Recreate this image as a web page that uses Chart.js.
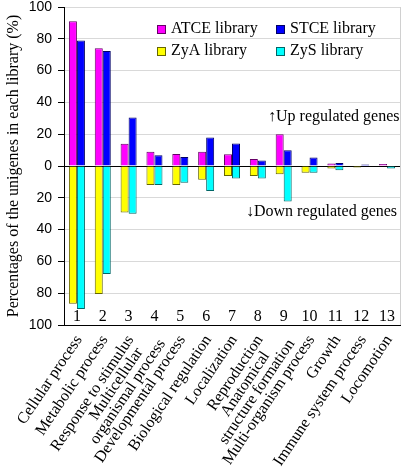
<!DOCTYPE html>
<html>
<head>
<meta charset="utf-8">
<script src="https://cdn.jsdelivr.net/npm/chart.js@4.4.1/dist/chart.umd.min.js"></script>
<style>
  body { margin: 0; background: #fff; }
  canvas { display: block; }
</style>
</head>
<body>
<canvas id="myChart" width="405" height="475"></canvas>
<script>
// kategorier (GO-termer)
const categories = [
  "Cellular process", "Metabolic process", "Response to stimulus",
  ["Multicellular", "organismal process"], "Developmental process",
  "Biological regulation", "Localization", "Reproduction",
  ["Anatomical", "structure formation"], "Multi-organism process",
  "Growth", "Immune system process", "Locomotion"
];
const catNumbers = ["1", "2", "3", "4", "5", "6", "7", "8", "9", "10", "11", "12", "13"];

// upp-reglerade
const atce = [91, 74, 14, 9, 7.6, 9, 7.4, 4.4, 20, 0, 1.5, 0, 1.3];
const stce = [79, 72.4, 30.5, 6.8, 5.7, 18, 14.1, 3.4, 9.9, 5.3, 1.9, 0.9, 0];
// ned-reglerade
const zya = [-86.6, -80.5, -29.2, -12, -12, -8.6, -6.3, -6.3, -5.2, -4.2, -1.5, -1, 0];
const zys = [-90, -67.9, -30, -12, -10.5, -15.7, -7.8, -7.8, -22.3, -4.2, -2.7, 0, -1.6];

const yTicks = [-100, -80, -60, -40, -20, 0, 20, 40, 60, 80, 100];
const legendNames = ["ATCE library", "STCE library", "ZyA library", "ZyS library"];
const colors = ["#ff00ff", "#0000ff", "#ffff00", "#00ffff"];
const borders = ["#660066", "#000066", "#666600", "#006666"];

const serif = "'Liberation Serif', 'Times New Roman', serif";

// egen plugin: kategorinamn, siffror, legend, pilar
const extras = {
  id: 'extras',
  beforeDatasetsDraw(chart) {
    const c = chart.ctx, a = chart.chartArea;
    c.save();
    c.strokeStyle = '#d0d0d0';
    c.lineWidth = 1;
    c.beginPath();
    c.moveTo(a.right + 0.5, a.top);
    c.lineTo(a.right + 0.5, a.bottom);
    c.stroke();
    c.restore();
  },
  afterDatasetsDraw(chart) {
    const c = chart.ctx;
    const x = chart.scales.x;
    const a = chart.chartArea;
    c.save();
    c.fillStyle = '#000';
    c.font = '16px ' + serif;
    c.textAlign = 'center';
    c.textBaseline = 'middle';
    catNumbers.forEach((n, i) => {
      c.fillText(n, x.getPixelForValue(i), a.bottom - 8);
    });

    // roterade kategorinamn, flera rader centrerade
    const rot = -56 * Math.PI / 180;
    const lh = 14;
    categories.forEach((lab, i) => {
      const lines = Array.isArray(lab) ? lab : [lab];
      const maxW = Math.max(...lines.map(t => c.measureText(t).width));
      c.save();
      c.translate(x.getPixelForValue(i) + 2, a.bottom + 12);
      c.rotate(rot);
      c.textAlign = 'center';
      lines.forEach((t, j) => {
        c.fillText(t, -maxW / 2, (j - (lines.length - 1) / 2) * lh);
      });
      c.restore();
    });

    // legend
    const pos = [[157, 29], [276, 29], [157, 51], [276, 51]];
    c.textAlign = 'left';
    legendNames.forEach((name, i) => {
      const [lx, ly] = pos[i];
      c.fillStyle = colors[i];
      c.fillRect(lx, ly - 4, 8, 8);
      c.strokeStyle = borders[i];
      c.lineWidth = 1;
      c.strokeRect(lx + 0.5, ly - 3.5, 8, 8);
      c.fillStyle = '#000';
      c.fillText(name, lx + 14, ly);
    });

    c.fillText("\u2191Up regulated genes", 268, 117);
    c.fillText("\u2193Down regulated genes", 246, 212);
    c.restore();
  }
};

const ctx = document.getElementById('myChart');

new Chart(ctx, {
  type: 'bar',
  data: {
    labels: categories,
    datasets: [
      { label: legendNames[0], data: atce, stack: 'a', backgroundColor: colors[0], borderColor: borders[0], borderWidth: 1 },
      { label: legendNames[1], data: stce, stack: 'b', backgroundColor: colors[1], borderColor: borders[1], borderWidth: 1 },
      { label: legendNames[2], data: zya, stack: 'a', backgroundColor: colors[2], borderColor: borders[2], borderWidth: 1 },
      { label: legendNames[3], data: zys, stack: 'b', backgroundColor: colors[3], borderColor: borders[3], borderWidth: 1 }
    ]
  },
  options: {
    responsive: false,
    animation: false,
    categoryPercentage: 0.62,
    barPercentage: 1,
    layout: { padding: { top: 0, right: 5, left: 0, bottom: 0 } },
    plugins: {
      legend: { display: false },
      tooltip: { enabled: false }
    },
    scales: {
      x: {
        stacked: true,
        grid: { display: false, drawTicks: false },
        border: { color: '#000' },
        ticks: { display: false },
        afterFit(scale) { scale.height = 150; }
      },
      y: {
        stacked: true,
        min: -100,
        max: 100,
        afterBuildTicks(scale) { scale.ticks = yTicks.map(v => ({ value: v })); },
        ticks: {
          color: '#000',
          font: { family: "'Liberation Sans', Arial, sans-serif", size: 14 },
          padding: 6,
          callback: v => Math.abs(v)
        },
        grid: {
          color: c => c.tick && c.tick.value === 0 ? '#000' : '#d9d9d9',
          tickColor: '#000',
          tickLength: 6
        },
        border: { color: '#000' },
        title: {
          display: true,
          text: 'Percentages of the unigenes in each library (%)',
          color: '#000',
          font: { family: serif, size: 16 },
          padding: { top: 4, bottom: 0 }
        },
        afterFit(scale) {
          scale.width = 64;
          scale.paddingTop = 7;
        }
      }
    }
  },
  plugins: [extras]
});
</script>
</body>
</html>
